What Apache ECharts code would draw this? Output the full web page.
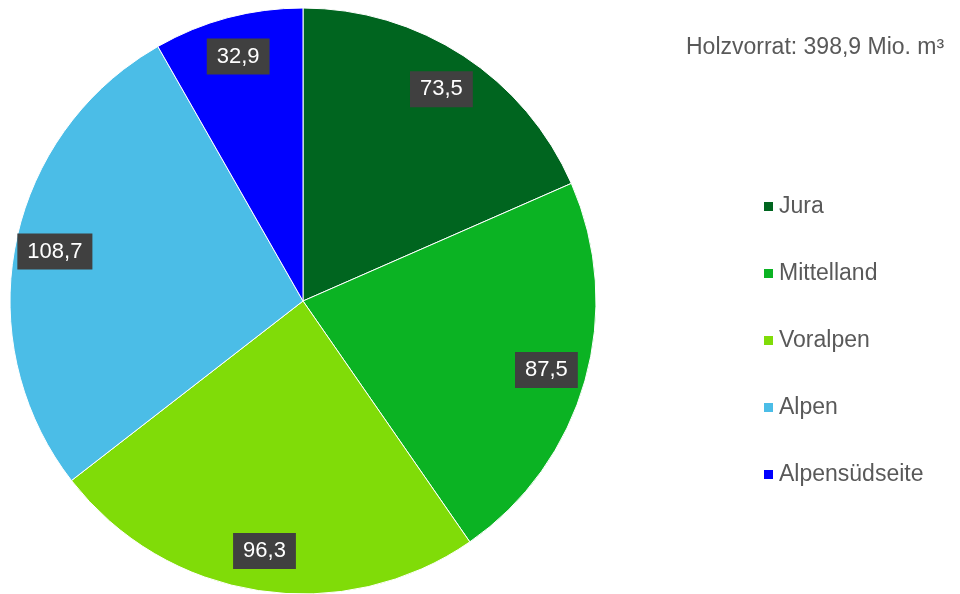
<!DOCTYPE html>
<html>
<head>
<meta charset="utf-8">
<script src="https://cdn.jsdelivr.net/npm/echarts@6/dist/echarts.min.js"></script>
<style>html,body{margin:0;padding:0;background:#fff}#c{width:960px;height:594px}</style>
</head>
<body>
<div id="c"></div>
<script>
var categories = ['Jura', 'Mittelland', 'Voralpen', 'Alpen', 'Alpensüdseite'];
var values = [73.5, 87.5, 96.3, 108.7, 32.9];
var colors = ['#00651f', '#0bb323', '#80dc08', '#4bbde7', '#0000ff'];
var titleText = 'Holzvorrat: 398,9 Mio. m³';

var FONT = '"Liberation Sans", Arial, sans-serif';
function fmt(v) { return String(v.toFixed(1)).replace('.', ','); }

var chart = echarts.init(document.getElementById('c'), null, { renderer: 'canvas' });
var pieData = categories.map(function (c, i) {
  return { name: c, value: values[i], itemStyle: { color: colors[i] } };
});
var labelData = categories.map(function (c, i) {
  return { name: c, value: values[i] };
});
chart.setOption({
  animation: false,
  title: {
    text: titleText,
    left: 681, top: 31,
    textStyle: { fontFamily: FONT, fontSize: 23, fontWeight: 'normal', color: '#595959' }
  },
  legend: {
    orient: 'vertical',
    left: 757, top: 190,
    icon: 'rect', itemWidth: 11, itemHeight: 11, itemGap: 44,
    data: categories.map(function (c, i) { return { name: c, itemStyle: { color: colors[i] } }; }),
    textStyle: { fontFamily: FONT, fontSize: 23, color: '#595959', lineHeight: 23 }
  },
  series: [
    {
      type: 'pie',
      center: [303, 301],
      radius: 293,
      startAngle: 90,
      clockwise: true,
      data: pieData,
      itemStyle: { borderColor: '#ffffff', borderWidth: 1 },
      label: { show: false },
      labelLine: { show: false },
      emphasis: { disabled: true }
    },
    {
      type: 'pie',
      center: [303, 301],
      radius: [207, 293],
      startAngle: 90,
      clockwise: true,
      silent: true,
      legendHoverLink: false,
      data: labelData,
      itemStyle: { color: 'rgba(0,0,0,0)', borderWidth: 0 },
      label: {
        show: true,
        position: 'inside',
        formatter: function (p) { return fmt(p.value); },
        fontFamily: FONT, fontSize: 22, color: '#ffffff',
        backgroundColor: '#404040',
        padding: [7, 10, 7, 10],
        lineHeight: 22
      },
      labelLine: { show: false },
      emphasis: { disabled: true }
    }
  ]
});
</script>
</body>
</html>
